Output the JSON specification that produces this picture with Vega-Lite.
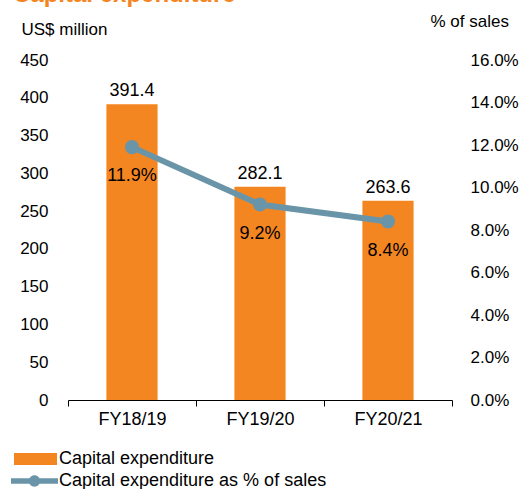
{
  "$schema": "https://vega.github.io/schema/vega-lite/v6.json",
  "width": 384,
  "height": 340,
  "autosize": "none",
  "padding": {"left": 68, "top": 60, "right": 75, "bottom": 89},
  "background": "white",
  "config": {
    "font": "Liberation Sans",
    "view": {"stroke": null},
    "axis": {"labelColor": "black", "titleColor": "black", "grid": false, "labelOverlap": false},
    "legend": {"padding": 0, "labelColor": "black", "labelFontSize": 18, "labelFont": "Liberation Sans", "labelLimit": 400}
  },
  "title": {
    "text": "Capital expenditure",
    "anchor": "start",
    "frame": "group",
    "color": "#F48622",
    "fontSize": 24,
    "fontWeight": "bold",
    "font": "Liberation Sans",
    "dx": -55,
    "dy": -5,
    "offset": 0
  },
  "data": {
    "values": [
      {"year": "FY18/19", "capex": 391.4, "pct": 0.119},
      {"year": "FY19/20", "capex": 282.1, "pct": 0.092},
      {"year": "FY20/21", "capex": 263.6, "pct": 0.084}
    ]
  },
  "encoding": {
    "x": {
      "field": "year",
      "type": "nominal",
      "sort": null,
      "scale": {"paddingInner": 0, "paddingOuter": 0},
      "axis": {
        "title": null,
        "labelAngle": 0,
        "labelFontSize": 18,
        "labelPadding": 4,
        "domainColor": "black",
        "tickColor": "black",
        "tickBand": "extent",
        "tickSize": 6
      }
    }
  },
  "layer": [
    {
      "encoding": {
        "y": {
          "field": "capex",
          "type": "quantitative",
          "scale": {"domain": [0, 450], "nice": false},
          "axis": {
            "title": "US$ million",
            "titleAngle": 0,
            "titleAlign": "left",
            "titleBaseline": "middle",
            "titleX": -47,
            "titleY": -31,
            "titleFontSize": 17,
            "titleFontWeight": "normal",
            "domain": false,
            "ticks": false,
            "labelFontSize": 17,
            "labelPadding": 20,
            "labelOverlap": false,
            "tickCount": 10,
            "values": [0, 50, 100, 150, 200, 250, 300, 350, 400, 450]
          }
        }
      },
      "layer": [
        {
          "mark": {"type": "bar", "width": {"band": 0.4}},
          "encoding": {
            "fill": {
              "datum": "Capital expenditure",
              "type": "nominal",
              "scale": {"range": ["#F48622"]},
              "legend": {
                "title": null,
                "orient": "none",
                "legendX": -54,
                "legendY": 377.5,
                "symbolType": "M-1,-0.28H1V0.28H-1Z",
                "symbolSize": 1849,
                "symbolStrokeWidth": 0,
                "labelOffset": 2,
                "labelLimit": 400
              }
            }
          }
        },
        {
          "mark": {"type": "text", "fontSize": 18, "color": "black", "baseline": "alphabetic", "dy": -8},
          "encoding": {
            "text": {"field": "capex", "type": "quantitative", "format": ".1f"}
          }
        }
      ]
    },
    {
      "encoding": {
        "y": {
          "field": "pct",
          "type": "quantitative",
          "scale": {"domain": [0, 0.16], "nice": false},
          "axis": {
            "orient": "right",
            "title": "% of sales",
            "titleAngle": 0,
            "titleAlign": "left",
            "titleBaseline": "middle",
            "titleX": -22,
            "titleY": -39,
            "titleFontSize": 17,
            "titleFontWeight": "normal",
            "domain": false,
            "ticks": false,
            "labelFontSize": 17,
            "labelPadding": 18,
            "labelOverlap": false,
            "format": ".1%",
            "values": [0, 0.02, 0.04, 0.06, 0.08, 0.1, 0.12, 0.14, 0.16]
          }
        }
      },
      "layer": [
        {
          "mark": {"type": "line", "color": "#6A95A8", "strokeWidth": 6}
        },
        {
          "mark": {"type": "point", "filled": true, "size": 200, "opacity": 1},
          "encoding": {
            "color": {
              "datum": "Capital expenditure as % of sales",
              "type": "nominal",
              "scale": {"range": ["#6A95A8"]},
              "legend": {
                "title": null,
                "orient": "none",
                "legendX": -57,
                "legendY": 397.5,
                "symbolType": "M-1,-0.12H1V0.12H-1Z M-0.24,0A0.24,0.24,0,1,1,0.24,0A0.24,0.24,0,1,1,-0.24,0Z",
                "symbolSize": 2209,
                "symbolStrokeWidth": 0,
                "symbolOpacity": 1,
                "labelOffset": 1,
                "labelLimit": 400
              }
            }
          }
        },
        {
          "mark": {"type": "text", "fontSize": 18, "color": "black", "baseline": "middle", "dy": 29},
          "encoding": {
            "text": {"field": "pct", "type": "quantitative", "format": ".1%"}
          }
        }
      ]
    }
  ],
  "resolve": {"scale": {"y": "independent"}}
}
